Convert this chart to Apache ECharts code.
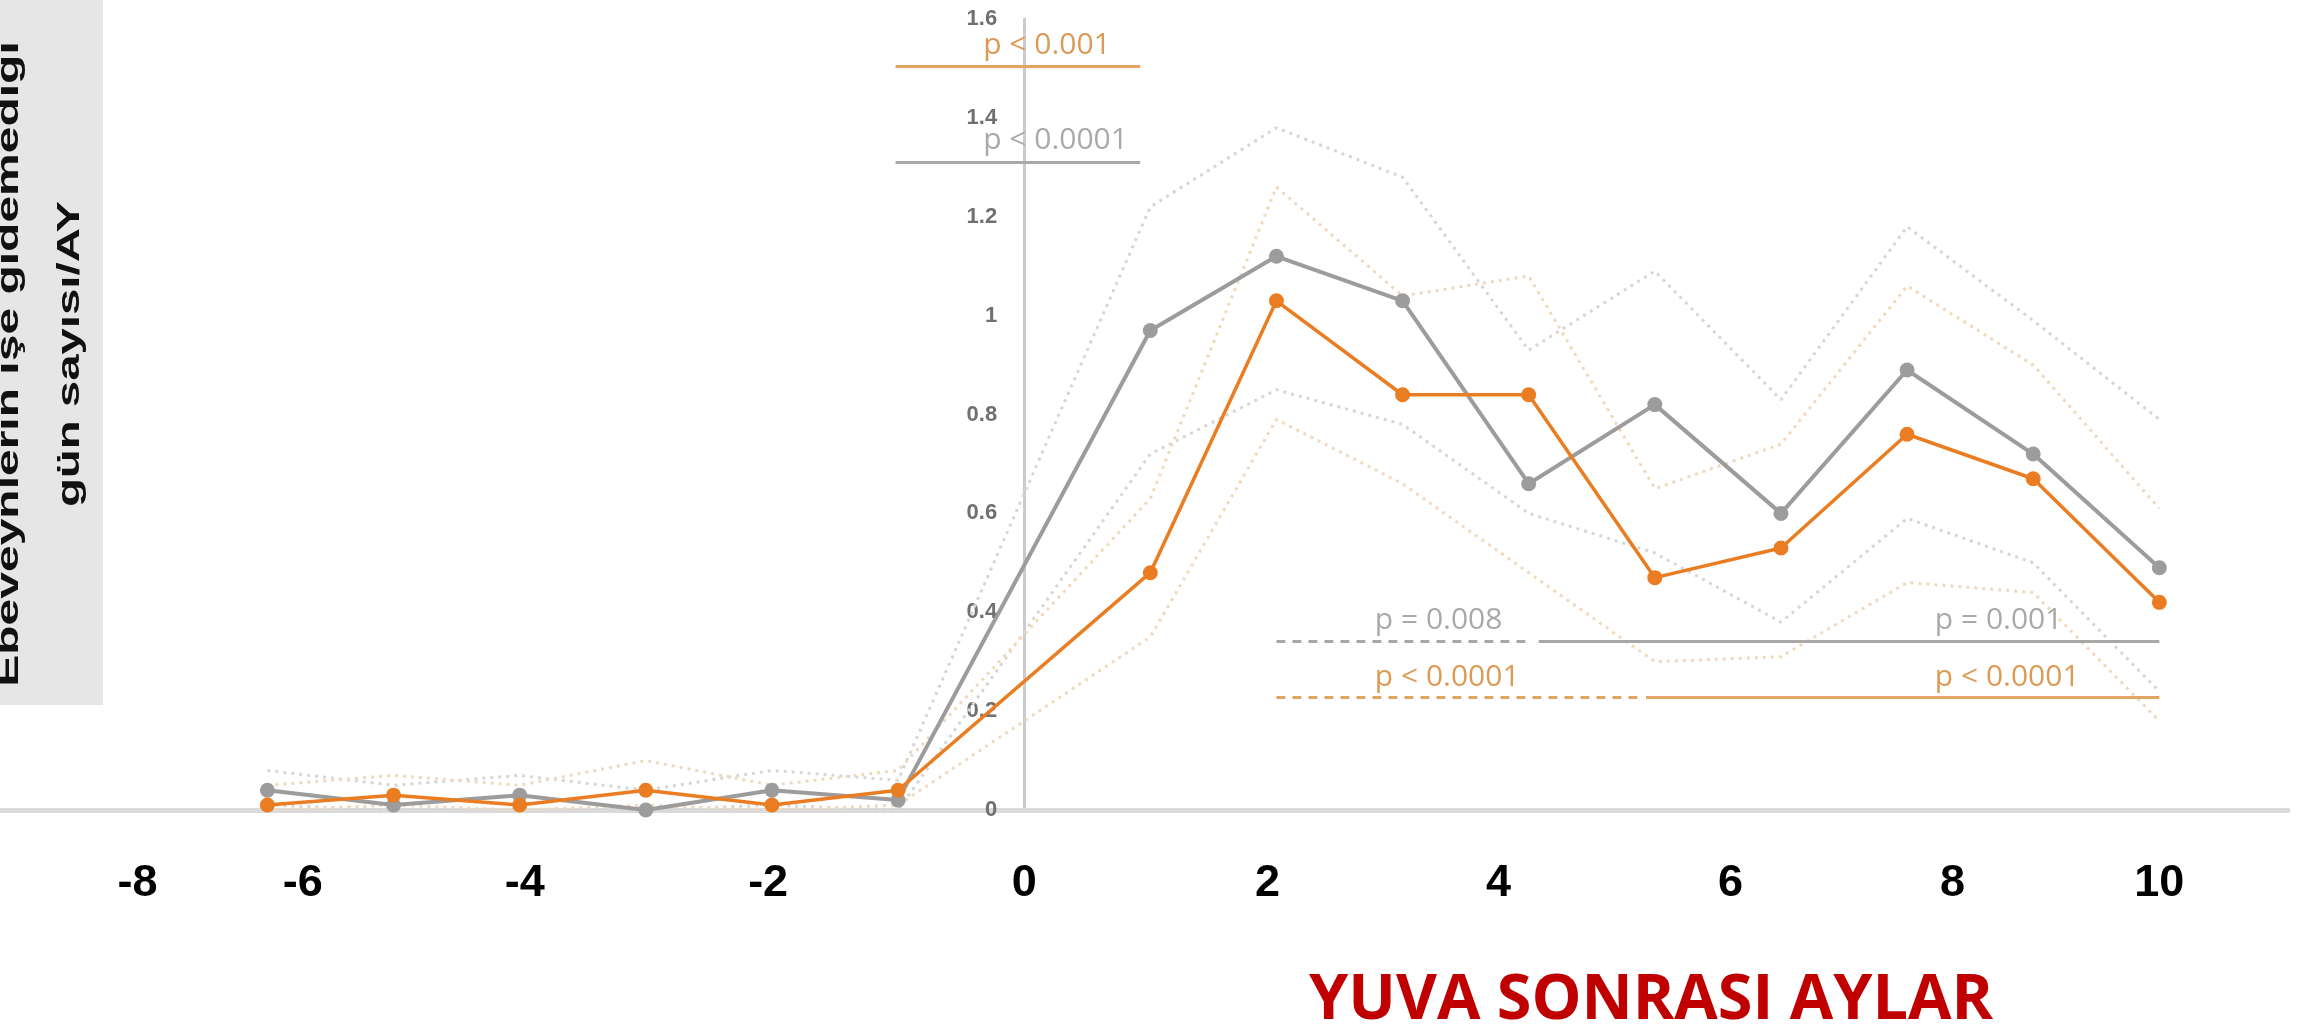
<!DOCTYPE html>
<html>
<head>
<meta charset="utf-8">
<script src="https://cdn.jsdelivr.net/npm/echarts@6/dist/echarts.min.js"></script>
<style>
html,body{margin:0;padding:0;background:#fff;}
#main{width:2318px;height:1029px;}
</style>
</head>
<body>
<div id="main"></div>
<script>
// ---- data ----
const months = [-6, -5, -4, -3, -2, -1, 1, 2, 3, 4, 5, 6, 7, 8, 9];
const grayMean   = [0.04, 0.01, 0.03, 0.00, 0.04, 0.02, 0.97, 1.12, 1.03, 0.66, 0.82, 0.60, 0.89, 0.72, 0.49];
const orangeMean = [0.01, 0.03, 0.01, 0.04, 0.01, 0.04, 0.48, 1.03, 0.84, 0.84, 0.47, 0.53, 0.76, 0.67, 0.42];
const grayUpper   = [0.08, 0.05, 0.07, 0.04, 0.08, 0.06, 1.22, 1.38, 1.28, 0.93, 1.09, 0.83, 1.18, 0.99, 0.79];
const grayLower   = [0.01, 0.00, 0.00, 0.00, 0.01, 0.00, 0.72, 0.85, 0.78, 0.60, 0.52, 0.38, 0.59, 0.50, 0.24];
const orangeUpper = [0.05, 0.07, 0.05, 0.10, 0.05, 0.08, 0.63, 1.26, 1.04, 1.08, 0.65, 0.74, 1.06, 0.90, 0.61];
const orangeLower = [0.00, 0.01, 0.00, 0.01, 0.00, 0.01, 0.35, 0.79, 0.66, 0.48, 0.30, 0.31, 0.46, 0.44, 0.18];

// x tick labels as typed on the picture, and where they sit on the month scale
const xTickLabels = ['-8', '-6', '-4', '-2', '0', '2', '4', '6', '8', '10'];
const xTickAt     = [-7.03, -5.72, -3.96, -2.03, 0, 1.93, 3.76, 5.6, 7.36, 9.0];

// significance brackets: [x1, x2, y]
const pGrayTop      = [-1.02, 0.92, 1.31];
const pOrangeTop    = [-1.02, 0.92, 1.505];
const pGrayDash     = [2.0, 4.0, 0.342];
const pGraySolid    = [4.08, 9.0, 0.342];
const pOrangeDash   = [2.0, 4.87, 0.229];
const pOrangeSolid  = [4.93, 9.0, 0.229];
// p texts: [text, x(left), y(centre), group]
const pTexts = [
  ['p < 0.001',  -0.325, 1.547, 'o'],
  ['p < 0.0001', -0.325, 1.354, 'g'],
  ['p = 0.008',   2.78,  0.383, 'g'],
  ['p = 0.001',   7.22,  0.383, 'g'],
  ['p < 0.0001',  2.78,  0.269, 'o'],
  ['p < 0.0001',  7.22,  0.269, 'o']
];

const GRAY = '#9c9c9c', ORANGE = '#ea7d22';
const GRAY_CI = '#d6d6d6', ORANGE_CI = '#f1d9bd';
const GRAY_P = '#a9a9a9', ORANGE_P = '#dc9a55';

const pairs = arr => months.map((m, i) => [m, arr[i]]);

function seg(b, color, type) {
  return [{coord: [b[0], b[2]], lineStyle: {color: color, width: 3, type: type}},
          {coord: [b[1], b[2]]}];
}

const chart = echarts.init(document.getElementById('main'));
const gridBase = {right: 30, top: 19, bottom: 219, outerBoundsMode: 'none', containLabel: false};
const option = {
  animation: false,
  backgroundColor: '#ffffff',
  title: {
    text: 'YUVA SONRASI AYLAR',
    left: 1304, top: 965,
    textStyle: {fontFamily: 'Open Sans', fontWeight: 'bold', fontSize: 63, color: '#c00000'}
  },
  grid: [
    Object.assign({left: 0}, gridBase),
    Object.assign({left: 1024}, gridBase)
  ],
  xAxis: [{
    gridIndex: 0,
    type: 'value', min: -8.12, max: 10.02,
    axisLine: {show: true, onZero: false, lineStyle: {color: '#dadada', width: 5}},
    axisTick: {show: false},
    splitLine: {show: false},
    axisLabel: {
      customValues: xTickAt,
      formatter: v => xTickLabels[xTickAt.indexOf(v)],
      margin: 74, verticalAlign: 'middle',
      fontFamily: 'Liberation Sans', fontWeight: 'bold', fontSize: 45, color: '#000'
    }
  }, {
    gridIndex: 1, type: 'value', min: 0, max: 1, show: false
  }],
  yAxis: [{
    gridIndex: 0, type: 'value', min: 0, max: 1.6, show: false
  }, {
    gridIndex: 1,
    type: 'value', min: 0, max: 1.6, interval: 0.2, position: 'left',
    axisLine: {show: true, onZero: false, lineStyle: {color: '#cbcbcb', width: 3}},
    axisTick: {show: false},
    splitLine: {show: false},
    axisLabel: {margin: 27, fontFamily: 'Liberation Sans', fontWeight: 'bold', fontSize: 22, color: '#707070'}
  }],
  graphic: [
    {type: 'rect', left: 0, top: 0, shape: {width: 103, height: 705}, style: {fill: '#e6e6e6'}, z: 0},
    {type: 'text', x: 9, y: 364, rotation: Math.PI / 2, scaleX: 1.5,
     style: {text: 'Ebeveynlerin işe gidemediği', font: 'bold 32px "Liberation Sans"', fill: '#111',
             align: 'center', verticalAlign: 'middle'}, z: 5},
    {type: 'text', x: 70, y: 354, rotation: Math.PI / 2, scaleX: 1.48,
     style: {text: 'gün sayısı/AY', font: 'bold 32px "Liberation Sans"', fill: '#111',
             align: 'center', verticalAlign: 'middle'}, z: 5}
  ],
  series: [
    {type: 'line', name: 'grayUpper', data: pairs(grayUpper), symbol: 'none', silent: true,
     lineStyle: {color: GRAY_CI, width: 3, type: [3, 5]}, z: 1},
    {type: 'line', name: 'grayLower', data: pairs(grayLower), symbol: 'none', silent: true,
     lineStyle: {color: GRAY_CI, width: 3, type: [3, 5]}, z: 1},
    {type: 'line', name: 'orangeUpper', data: pairs(orangeUpper), symbol: 'none', silent: true,
     lineStyle: {color: ORANGE_CI, width: 3, type: [3, 5]}, z: 1},
    {type: 'line', name: 'orangeLower', data: pairs(orangeLower), symbol: 'none', silent: true,
     lineStyle: {color: ORANGE_CI, width: 3, type: [3, 5]}, z: 1},
    {type: 'line', name: 'gray', data: pairs(grayMean), symbol: 'circle', symbolSize: 15,
     itemStyle: {color: GRAY}, lineStyle: {color: GRAY, width: 4}, z: 3,
     markLine: {
       silent: true, symbol: 'none', label: {show: false},
       data: [
         seg(pGrayTop, '#a8a8a8', 'solid'),
         seg(pOrangeTop, '#e3a466', 'solid'),
         seg(pGrayDash, '#a8a8a8', [9, 7]),
         seg(pGraySolid, '#a8a8a8', 'solid'),
         seg(pOrangeDash, '#e3a466', [9, 7]),
         seg(pOrangeSolid, '#e3a466', 'solid')
       ]
     },
     markPoint: {
       silent: true,
       data: pTexts.map(t => ({
         coord: [t[1], t[2]], symbol: 'circle', symbolSize: 0,
         label: {show: true, position: 'right', distance: 0, formatter: t[0],
                 fontFamily: 'Open Sans', fontSize: 30,
                 color: t[3] === 'g' ? GRAY_P : ORANGE_P}
       }))
     }},
    {type: 'line', name: 'orange', data: pairs(orangeMean), symbol: 'circle', symbolSize: 15,
     itemStyle: {color: ORANGE}, lineStyle: {color: ORANGE, width: 3.5}, z: 4}
  ]
};
chart.setOption(option);
// place the value-axis grid so its left edge sits at month 0 of the main x scale
const zeroX = chart.convertToPixel({xAxisIndex: 0}, 0);
chart.setOption({grid: [{}, {left: zeroX}]});
</script>
</body>
</html>
